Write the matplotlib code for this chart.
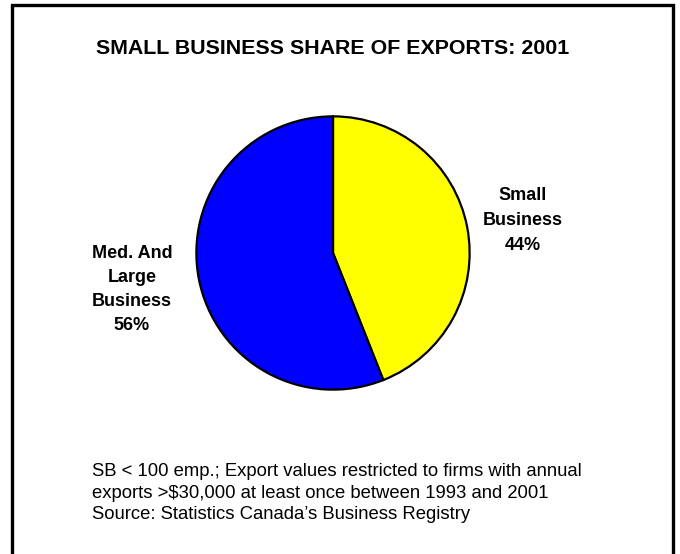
import matplotlib
matplotlib.use("Agg")
import matplotlib.pyplot as plt
from matplotlib.patches import Rectangle

plt.rcParams['font.family'] = ['Liberation Sans', 'DejaVu Sans']

title = "SMALL BUSINESS SHARE OF EXPORTS: 2001"
categories = ["Small\nBusiness", "Med. And\nLarge\nBusiness"]
shares = [44, 56]
colors = ["#FFFF00", "#0000FF"]
footnote = ("SB < 100 emp.; Export values restricted to firms with annual\n"
            "exports >$30,000 at least once between 1993 and 2001\n"
            "Source: Statistics Canada\u2019s Business Registry")

W, H = 680, 554
fig = plt.figure(figsize=(W / 100, H / 100), dpi=100)
fig.patch.set_facecolor("white")

# outer frame (bottom edge runs off the canvas)
fig.patches.append(Rectangle((12 / W, -10 / H), 661 / W, (H + 10 - 5) / H,
                             transform=fig.transFigure, fill=False,
                             edgecolor="black", linewidth=2.4))

fig.text(333 / W, 1 - 48 / H, title, ha="center", va="center",
         fontsize=15.4, fontweight="bold")

# pie axes: centre (333, 253) px, radius 138 px
cx, cy, r = 333, 253, 138
ax = fig.add_axes([(cx - r) / W, (H - cy - r) / H, 2 * r / W, 2 * r / H])
ax.pie(shares, colors=colors, startangle=90, counterclock=False, radius=1,
       wedgeprops=dict(edgecolor="black", linewidth=1.6))
ax.set_xlim(-1.01, 1.01)
ax.set_ylim(-1.01, 1.01)
ax.set_aspect("auto")
ax.axis("off")

fig.text(523 / W, 1 - 220.5 / H, f"{categories[0]}\n{shares[0]}%", ha="center", va="center",
         fontsize=13, fontweight="bold", linespacing=1.58)
fig.text(132 / W, 1 - 289.5 / H, f"{categories[1]}\n{shares[1]}%", ha="center", va="center",
         fontsize=13, fontweight="bold", linespacing=1.55)

fig.text(92 / W, 1 - 493 / H, footnote, ha="left", va="center",
         fontsize=13.3, linespacing=1.38)

fig.savefig("out.png", dpi=100)
